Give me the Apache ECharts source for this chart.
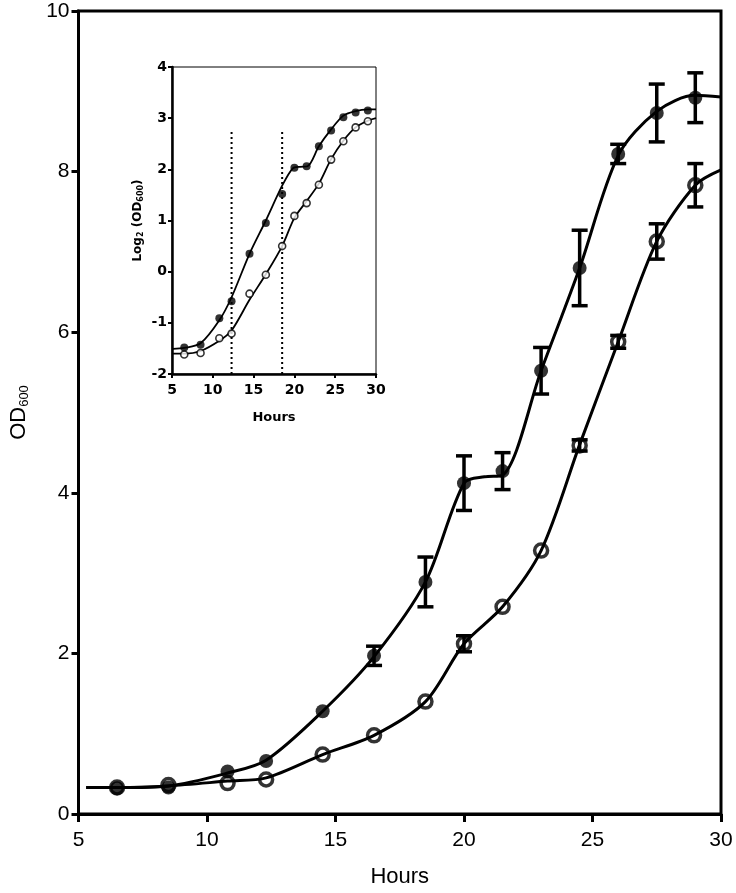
<!DOCTYPE html>
<html>
<head>
<meta charset="utf-8">
<script src="https://cdn.jsdelivr.net/npm/echarts@6/dist/echarts.min.js"></script>
<style>html,body{margin:0;padding:0;background:#fff}#c{width:736px;height:893px}</style>
</head>
<body>
<div id="c"></div>
<script>
// ---- Data ----
const hours = [6.5, 8.5, 10.8, 12.3, 14.5, 16.5, 18.5, 20, 21.5, 23, 24.5, 26, 27.5, 29];
const odFilled = [0.32, 0.33, 0.53, 0.66, 1.28, 1.97, 2.89, 4.12, 4.27, 5.52, 6.80, 8.22, 8.73, 8.92];
const odFilledErr = [0, 0, 0, 0, 0, 0.12, 0.31, 0.34, 0.23, 0.29, 0.47, 0.12, 0.36, 0.31];
const odOpen = [0.33, 0.36, 0.385, 0.43, 0.74, 0.98, 1.40, 2.12, 2.58, 3.28, 4.59, 5.88, 7.13, 7.83];
const odOpenErr = [0, 0, 0, 0, 0, 0, 0, 0.10, 0, 0, 0.07, 0.08, 0.22, 0.27];

// fitted curves (knots)
const fitFilledX = [5.3, 6.5, 8.5, 10.8, 12.3, 14.5, 16.5, 18.5, 20, 20.8, 21.5, 23, 24.5, 26, 27.5, 29, 30];
const fitFilledY = [0.33, 0.33, 0.35, 0.51, 0.67, 1.28, 1.96, 2.89, 4.12, 4.20, 4.22, 5.52, 6.80, 8.20, 8.75, 8.95, 8.93];
const fitOpenX = [5.3, 6.5, 8.5, 10.8, 12.3, 14.5, 16.5, 18.5, 20, 21.5, 23, 24.5, 26, 27.5, 29, 30];
const fitOpenY = [0.33, 0.33, 0.35, 0.41, 0.45, 0.74, 0.98, 1.40, 2.12, 2.58, 3.28, 4.60, 5.88, 7.13, 7.83, 8.02];

// inset: log2(OD600)
const logFilled = [-1.48, -1.43, -0.91, -0.58, 0.35, 0.95, 1.52, 2.03, 2.06, 2.45, 2.76, 3.02, 3.11, 3.15];
const logOpen = [-1.62, -1.59, -1.30, -1.21, -0.43, -0.06, 0.50, 1.09, 1.34, 1.70, 2.19, 2.55, 2.82, 2.94];
const insetFitFilledX = [5.1, 6.5, 8.5, 10.8, 12.3, 14.5, 16.5, 18.5, 19.8, 20.7, 21.6, 23, 24.5, 26, 27.5, 29, 30];
const insetFitFilledY = [-1.51, -1.49, -1.40, -0.95, -0.50, 0.35, 1.00, 1.68, 2.02, 2.05, 2.06, 2.45, 2.78, 3.05, 3.14, 3.17, 3.17];
const insetFitOpenX = [5.1, 6.5, 8.5, 10.8, 12.3, 14.5, 16.5, 18.5, 20, 21.5, 23, 24.5, 26, 27.5, 29, 30];
const insetFitOpenY = [-1.60, -1.60, -1.55, -1.35, -1.15, -0.55, -0.05, 0.50, 1.05, 1.38, 1.72, 2.20, 2.56, 2.82, 2.95, 3.00];
const dottedX = [12.3, 18.5];
const dottedYRange = [-2, 2.75];

const mainXTicks = [5, 10, 15, 20, 25, 30];
const mainYTicks = [0, 2, 4, 6, 8, 10];
const insetYTicks = [-2, -1, 0, 1, 2, 3, 4];

// ---- helpers ----
const zip = (a, b) => a.map((v, i) => [v, b[i]]);
const zip3 = (a, b, c) => a.map((v, i) => [v, b[i], c[i]]);

function errRender(capHalf, lw) {
  return function (params, api) {
    const x = api.value(0), y = api.value(1), e = api.value(2);
    if (!e) return null;
    const t = api.coord([x, y + e]), b = api.coord([x, y - e]);
    const st = { stroke: '#000', lineWidth: lw };
    return {
      type: 'group',
      children: [
        { type: 'line', shape: { x1: t[0], y1: t[1], x2: b[0], y2: b[1] }, style: st },
        { type: 'line', shape: { x1: t[0] - capHalf, y1: t[1], x2: t[0] + capHalf, y2: t[1] }, style: st },
        { type: 'line', shape: { x1: b[0] - capHalf, y1: b[1], x2: b[0] + capHalf, y2: b[1] }, style: st }
      ]
    };
  };
}

const mainFont = 'Liberation Sans, Arial, sans-serif';
const insetFont = 'DejaVu Sans, sans-serif';
const SM = 0.3;

const chart = echarts.init(document.getElementById('c'), null, { renderer: 'canvas' });

const option = {
  backgroundColor: '#fff',
  animation: false,
  grid: [
    { left: 76, right: 15, top: 11, bottom: 77, show: true, borderColor: '#000', borderWidth: 3, backgroundColor: 'transparent' },
    { left: 172, top: 67, width: 204, height: 307, show: true, borderColor: '#000', borderWidth: 1, backgroundColor: '#fff' }
  ],
  xAxis: [
    {
      gridIndex: 0, type: 'value', min: 5, max: 30, interval: 5,
      name: 'Hours', nameLocation: 'middle', nameGap: 52,
      nameTextStyle: { fontFamily: mainFont, fontSize: 22, color: '#000' },
      axisLine: { onZero: false, lineStyle: { color: '#000', width: 3 } },
      axisTick: { show: true, length: 8, lineStyle: { color: '#000', width: 3 } },
      axisLabel: { fontFamily: mainFont, fontSize: 21, color: '#000', margin: 16, formatter: v => mainXTicks.includes(v) ? String(v) : '' },
      splitLine: { show: false }
    },
    {
      gridIndex: 1, type: 'value', min: 5, max: 30, interval: 5,
      name: 'Hours', nameLocation: 'middle', nameGap: 37,
      nameTextStyle: { fontFamily: insetFont, fontSize: 13, fontWeight: 'bold', color: '#000' },
      axisLine: { onZero: false, lineStyle: { color: '#000', width: 2.5 } },
      axisTick: { show: true, length: 4, lineStyle: { color: '#000', width: 2 } },
      axisLabel: { fontFamily: insetFont, fontSize: 14, fontWeight: 'bold', color: '#000', margin: 9 },
      splitLine: { show: false }
    }
  ],
  yAxis: [
    {
      gridIndex: 0, type: 'value', min: 0, max: 10, interval: 2,
      name: '{a|OD}{b|600}', nameLocation: 'middle', nameGap: 48, nameRotate: 90,
      nameTextStyle: {
        fontFamily: mainFont, color: '#000',
        rich: {
          a: { fontFamily: mainFont, fontSize: 22, color: '#000' },
          b: { fontFamily: mainFont, fontSize: 13, color: '#000', verticalAlign: 'bottom', padding: [10, 0, 0, 0] }
        }
      },
      axisLine: { onZero: false, lineStyle: { color: '#000', width: 3 } },
      axisTick: { show: true, length: 7, lineStyle: { color: '#000', width: 3 } },
      axisLabel: { fontFamily: mainFont, fontSize: 21, color: '#000', margin: 9, formatter: v => mainYTicks.includes(v) ? String(v) : '' },
      splitLine: { show: false }
    },
    {
      gridIndex: 1, type: 'value', min: -2, max: 4, interval: 1,
      name: '{a|Log}{s|2}{a| (OD}{s|600}{a|)}', nameLocation: 'middle', nameGap: 27, nameRotate: 90,
      nameTextStyle: {
        color: '#000',
        rich: {
          a: { fontFamily: insetFont, fontSize: 12, fontWeight: 'bold', color: '#000' },
          s: { fontFamily: insetFont, fontSize: 8, fontWeight: 'bold', color: '#000', verticalAlign: 'bottom', padding: [7, 0, 0, 0] }
        }
      },
      axisLine: { onZero: false, lineStyle: { color: '#000', width: 2.5 } },
      axisTick: { show: true, length: 4, lineStyle: { color: '#000', width: 2 } },
      axisLabel: { fontFamily: insetFont, fontSize: 14, fontWeight: 'bold', color: '#000', margin: 5, formatter: v => insetYTicks.includes(v) ? String(v) : '' },
      splitLine: { show: false }
    }
  ],
  series: [
    // main curves
    { type: 'line', xAxisIndex: 0, yAxisIndex: 0, data: zip(fitOpenX, fitOpenY), smooth: SM, showSymbol: false, lineStyle: { color: '#000', width: 3 }, z: 2, silent: true },
    { type: 'line', xAxisIndex: 0, yAxisIndex: 0, data: zip(fitFilledX, fitFilledY), smooth: SM, showSymbol: false, lineStyle: { color: '#000', width: 3 }, z: 2, silent: true },
    // error bars
    { type: 'custom', xAxisIndex: 0, yAxisIndex: 0, data: zip3(hours, odOpen, odOpenErr), renderItem: errRender(8, 3.5), encode: { x: 0, y: 1 }, z: 3, silent: true },
    { type: 'custom', xAxisIndex: 0, yAxisIndex: 0, data: zip3(hours, odFilled, odFilledErr), renderItem: errRender(8, 3.5), encode: { x: 0, y: 1 }, z: 3, silent: true },
    // markers
    { type: 'scatter', xAxisIndex: 0, yAxisIndex: 0, data: zip(hours, odOpen), symbol: 'circle', symbolSize: 13, itemStyle: { color: 'rgba(0,0,0,0)', borderColor: '#000', borderWidth: 3.5 }, z: 4, silent: true },
    { type: 'scatter', xAxisIndex: 0, yAxisIndex: 0, data: zip(hours, odFilled), symbol: 'circle', symbolSize: 14, itemStyle: { color: '#000' }, z: 5, silent: true },

    // inset dotted lines
    ...dottedX.map(x => ({ type: 'line', xAxisIndex: 1, yAxisIndex: 1, data: [[x, dottedYRange[0]], [x, dottedYRange[1]]], showSymbol: false, lineStyle: { color: '#000', width: 2, type: [2, 3] }, z: 2, silent: true })),
    // inset curves
    { type: 'line', xAxisIndex: 1, yAxisIndex: 1, data: zip(insetFitOpenX, insetFitOpenY), smooth: SM, showSymbol: false, lineStyle: { color: '#000', width: 1.8 }, z: 3, silent: true },
    { type: 'line', xAxisIndex: 1, yAxisIndex: 1, data: zip(insetFitFilledX, insetFitFilledY), smooth: SM, showSymbol: false, lineStyle: { color: '#000', width: 1.8 }, z: 3, silent: true },
    // inset markers
    { type: 'scatter', xAxisIndex: 1, yAxisIndex: 1, data: zip(hours, logOpen), symbol: 'circle', symbolSize: 7, itemStyle: { color: '#fff', borderColor: '#000', borderWidth: 1.6 }, z: 4, silent: true },
    { type: 'scatter', xAxisIndex: 1, yAxisIndex: 1, data: zip(hours, logFilled), symbol: 'circle', symbolSize: 8, itemStyle: { color: '#000' }, z: 5, silent: true }
  ]
};
chart.setOption(option);
</script>
</body>
</html>
